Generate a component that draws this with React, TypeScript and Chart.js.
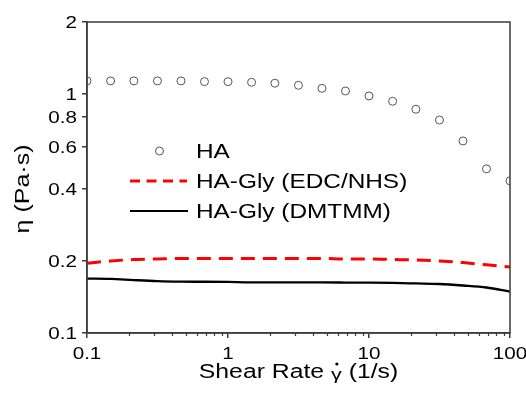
import React, { useEffect, useRef } from "react";
import { Chart, registerables } from "chart.js";

Chart.register(...registerables);

// ---- data ----
const shearRate = [0.1, 0.147, 0.215, 0.316, 0.464, 0.681, 1, 1.47, 2.15, 3.16, 4.64, 6.81, 10, 14.7, 21.5, 31.6, 46.4, 68.1, 100];
const haViscosity = [1.134, 1.134, 1.134, 1.134, 1.134, 1.126, 1.126, 1.119, 1.109, 1.087, 1.056, 1.029, 0.981, 0.932, 0.863, 0.778, 0.636, 0.486, 0.433];
const edcViscosity = [0.196, 0.2, 0.203, 0.204, 0.205, 0.205, 0.205, 0.205, 0.205, 0.205, 0.205, 0.204, 0.204, 0.203, 0.202, 0.2, 0.197, 0.193, 0.189];
const dmtmmViscosity = [0.169, 0.1685, 0.1665, 0.1648, 0.164, 0.1638, 0.1635, 0.163, 0.163, 0.163, 0.1628, 0.1626, 0.1624, 0.162, 0.1612, 0.1603, 0.158, 0.155, 0.149];
const seriesLabels = ["HA", "HA-Gly (EDC/NHS)", "HA-Gly (DMTMM)"];
const xTickValues = [0.1, 1, 10, 100];
const xTickLabels = ["0.1", "1", "10", "100"];
const yTickValues = [0.1, 0.2, 0.4, 0.6, 0.8, 1, 2];
const yTickLabels = ["0.1", "0.2", "0.4", "0.6", "0.8", "1", "2"];
const xMinorDecades = [0.1, 1, 10];
const xTitleParts = ["Shear Rate ", "γ", " (1/s)"];
const yTitle = "η (Pa·s)";

const FONT = "'Liberation Sans', Arial, Helvetica, sans-serif";
const AXIS = "#3c3c3c";
const STRETCH = 1.27;
const TICK_STRETCH = 1.25;

function stretchedText(ctx: CanvasRenderingContext2D, text: string, x: number, y: number, sx: number, align: CanvasTextAlign = "left") {
  ctx.save();
  ctx.translate(x, y);
  ctx.scale(sx, 1);
  ctx.textAlign = align;
  ctx.fillText(text, 0, 0);
  ctx.restore();
}

const decorPlugin = {
  id: "decor",
  afterDraw(chart: any) {
    const ctx: CanvasRenderingContext2D = chart.ctx;
    const a = chart.chartArea;
    const xs = chart.scales.x;
    const ys = chart.scales.y;
    ctx.save();
    // frame
    ctx.strokeStyle = AXIS;
    ctx.lineWidth = 1.5;
    ctx.strokeRect(a.left, a.top, a.right - a.left, a.bottom - a.top);
    // minor x ticks
    ctx.lineWidth = 1.2;
    ctx.beginPath();
    xMinorDecades.forEach((d) => {
      for (let k = 2; k <= 9; k++) {
        const px = Math.round(xs.getPixelForValue(k * d)) + 0.5;
        ctx.moveTo(px, a.bottom);
        ctx.lineTo(px, a.bottom + 3);
      }
    });
    ctx.stroke();

    ctx.fillStyle = "#000";
    ctx.textBaseline = "alphabetic";

    // tick labels
    ctx.font = `16.5px ${FONT}`;
    yTickValues.forEach((v, i) => {
      const py = ys.getPixelForValue(v);
      stretchedText(ctx, yTickLabels[i], a.left - 10, py + 6, TICK_STRETCH, "right");
    });
    xTickValues.forEach((v, i) => {
      const px = xs.getPixelForValue(v);
      stretchedText(ctx, xTickLabels[i], px, a.bottom + 25.5, TICK_STRETCH, "center");
    });

    // x title
    ctx.font = `19.5px ${FONT}`;
    const w0 = ctx.measureText(xTitleParts[0]).width;
    ctx.font = `17px ${FONT}`;
    const w1 = ctx.measureText(xTitleParts[1]).width;
    ctx.font = `19.5px ${FONT}`;
    const w2 = ctx.measureText(xTitleParts[2]).width;
    const total = (w0 + w1 + w2) * STRETCH;
    const cx = (a.left + a.right) / 2;
    let x0 = cx - total / 2;
    const base = 377.5;
    ctx.font = `19.5px ${FONT}`;
    stretchedText(ctx, xTitleParts[0], x0, base, STRETCH);
    x0 += w0 * STRETCH;
    ctx.font = `17px ${FONT}`;
    stretchedText(ctx, xTitleParts[1], x0, base + 2, STRETCH);
    ctx.beginPath();
    ctx.arc(x0 + (w1 * STRETCH) / 2 + 0.5, 364, 1.6, 0, Math.PI * 2);
    ctx.fill();
    x0 += w1 * STRETCH;
    ctx.font = `19.5px ${FONT}`;
    stretchedText(ctx, xTitleParts[2], x0, base, STRETCH);

    // y title
    ctx.save();
    ctx.translate(29, 189);
    ctx.rotate(-Math.PI / 2);
    ctx.font = `20.5px ${FONT}`;
    stretchedText(ctx, yTitle, 0, 0, 1.22, "center");
    ctx.restore();

    // legend
    const ds = chart.data.datasets;
    const lx0 = 130, lx1 = 187, tx = 196;
    const rows = [151, 181, 211];
    ctx.font = `19.5px ${FONT}`;
    ctx.strokeStyle = ds[0].borderColor;
    ctx.lineWidth = 1;
    ctx.beginPath();
    ctx.arc((lx0 + lx1) / 2 + 1, rows[0], 4, 0, Math.PI * 2);
    ctx.stroke();
    ctx.strokeStyle = ds[1].borderColor;
    ctx.lineWidth = 3;
    ctx.setLineDash([10, 6.5]);
    ctx.beginPath();
    ctx.moveTo(lx0, rows[1]);
    ctx.lineTo(lx1, rows[1]);
    ctx.stroke();
    ctx.setLineDash([]);
    ctx.strokeStyle = ds[2].borderColor;
    ctx.lineWidth = 2;
    ctx.beginPath();
    ctx.moveTo(lx0, rows[2]);
    ctx.lineTo(lx1 + 1, rows[2]);
    ctx.stroke();
    ctx.fillStyle = "#000";
    ds.forEach((d: any, i: number) => {
      stretchedText(ctx, d.label, tx, rows[i] + 7, 1.25);
    });
    ctx.restore();
  },
};

export default function App() {
  const ref = useRef<HTMLCanvasElement>(null);
  useEffect(() => {
    if (!ref.current) return;
    const pts = (ys: number[]) => shearRate.map((x, i) => ({ x, y: ys[i] }));
    const chart = new Chart(ref.current, {
      type: "line",
      data: {
        datasets: [
          {
            label: seriesLabels[0],
            data: pts(haViscosity),
            showLine: false,
            pointRadius: 4,
            pointBorderWidth: 1,
            pointBorderColor: "#555555",
            borderColor: "#555555",
            pointBackgroundColor: "rgba(0,0,0,0)",
            backgroundColor: "rgba(0,0,0,0)",
            clip: 0,
          },
          {
            label: seriesLabels[1],
            data: pts(edcViscosity),
            borderColor: "#ff0000",
            borderWidth: 3,
            borderDash: [14, 8],
            pointRadius: 0,
            cubicInterpolationMode: "monotone",
            fill: false,
          },
          {
            label: seriesLabels[2],
            data: pts(dmtmmViscosity),
            borderColor: "#000000",
            borderWidth: 2.3,
            pointRadius: 0,
            cubicInterpolationMode: "monotone",
            fill: false,
          },
        ],
      },
      options: {
        animation: false,
        responsive: false,
        maintainAspectRatio: false,
        layout: { padding: { top: 22, right: 16, left: 0, bottom: 0 } },
        plugins: { legend: { display: false }, tooltip: { enabled: false }, title: { display: false } },
        scales: {
          x: {
            type: "logarithmic",
            min: 0.1,
            max: 100,
            afterFit: (s: any) => { s.height = 66; },
            afterBuildTicks: (s: any) => { s.ticks = xTickValues.map((v) => ({ value: v })); },
            ticks: { display: false, autoSkip: false, maxRotation: 0 },
            grid: { drawOnChartArea: false, drawTicks: true, tickLength: 5, color: AXIS, lineWidth: 1.5 },
            border: { display: true, color: AXIS, width: 1.5 },
          },
          y: {
            type: "logarithmic",
            min: 0.1,
            max: 2,
            afterFit: (s: any) => { s.width = 87; },
            afterBuildTicks: (s: any) => { s.ticks = yTickValues.map((v) => ({ value: v })); },
            ticks: { display: false, autoSkip: false },
            grid: { drawOnChartArea: false, drawTicks: true, tickLength: 5, color: AXIS, lineWidth: 1.5 },
            border: { display: true, color: AXIS, width: 1.5 },
          },
        },
      },
      plugins: [decorPlugin],
    } as any);
    return () => chart.destroy();
  }, []);
  return (
    <div style={{ position: "absolute", left: 0, top: 0, width: 526, height: 399, background: "#fff" }}>
      <canvas ref={ref} width={526} height={399} style={{ display: "block" }} />
    </div>
  );
}
